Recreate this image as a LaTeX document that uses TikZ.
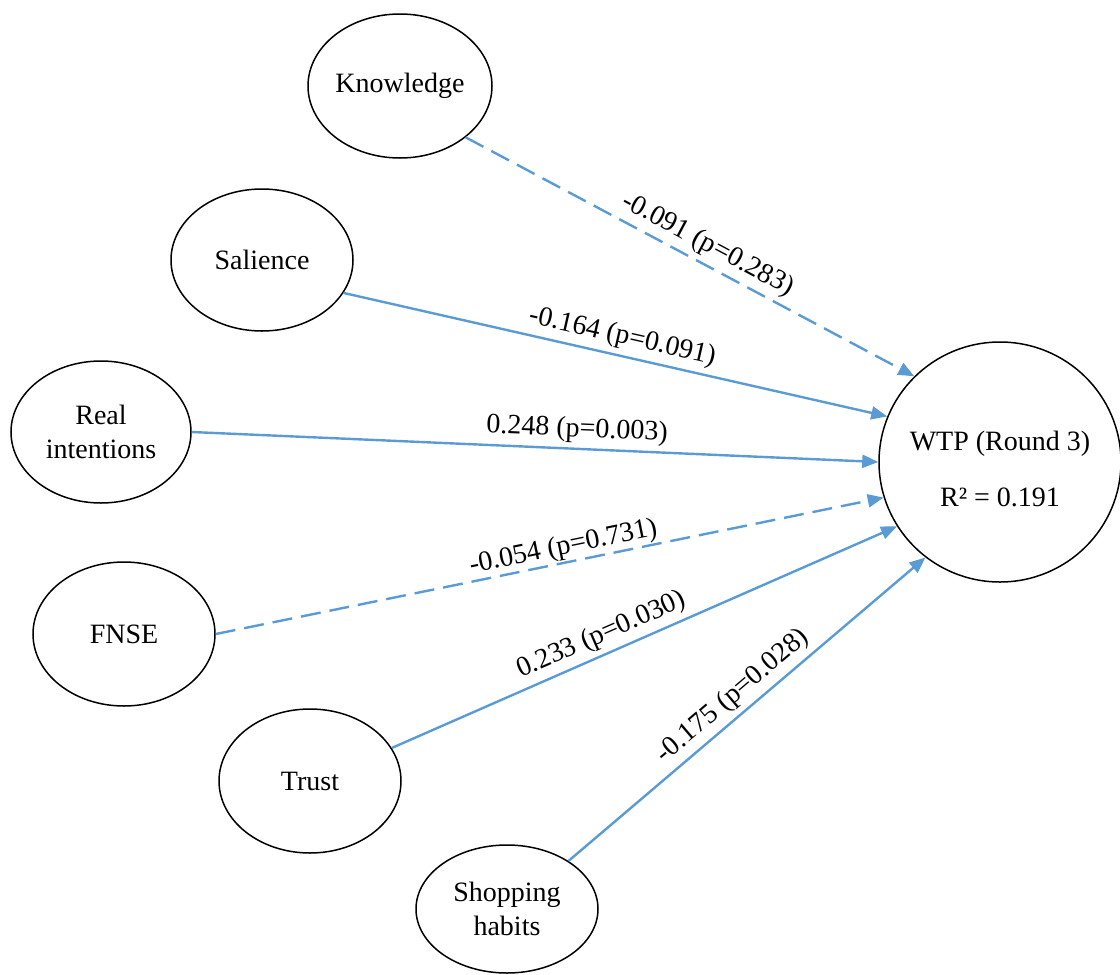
\documentclass[tikz,border=0pt]{standalone}
\usepackage{fontspec}
\setmainfont{Liberation Serif}
\usetikzlibrary{arrows.meta,shapes.geometric}
\definecolor{pathblue}{HTML}{5B9BD5}
\begin{document}
\begin{tikzpicture}[x=0.5pt,y=-0.5pt,
  every node/.style={font=\fontsize{14}{17}\selectfont},
  construct/.style={draw=black, line width=0.75pt, ellipse, inner sep=0pt, align=center},
  path/.style={draw=pathblue, line width=1.2pt, -{Triangle[length=8pt,width=6.5pt]}},
  nonsig/.style={path, dash pattern=on 10pt off 4.5pt},
  coef/.style={sloped, above, inner sep=2.5pt}]
\useasboundingbox (0,0) rectangle (1120,975);

% exogenous constructs
\node[construct, minimum width=92pt, minimum height=72pt] (know) at (400,86) {Knowledge};
\node[construct, minimum width=91pt, minimum height=71pt] (sal) at (262,260) {Salience};
\node[construct, minimum width=90pt, minimum height=71pt] (real) at (101,432) {Real\\intentions};
\node[construct, minimum width=91pt, minimum height=72pt] (fnse) at (124,634) {FNSE};
\node[construct, minimum width=91pt, minimum height=72pt] (trust) at (310,781) {Trust};
\node[construct, minimum width=91pt, minimum height=64pt] (shop) at (507,909) {Shopping\\habits};

% endogenous construct and its text
\node[construct, minimum width=121pt, minimum height=120pt] (wtp) at (1000,462) {};
\node[align=center] (wtptext) at ([yshift=-3.5pt]wtp.center) {WTP (Round 3)\\[11pt]R² = 0.191};

% structural paths
\draw[nonsig] (know.-38) -- node[coef, pos=0.52] {-0.091 (p=0.283)} (wtp.135);
\draw[path] (sal.-22) -- node[coef, pos=0.505] {-0.164 (p=0.091)} (wtp.158.5);
\draw[path] (real.0) -- node[coef, pos=0.56] {0.248 (p=0.003)} (wtp.180.5);
\draw[nonsig] (fnse.0) -- node[coef, pos=0.525, inner sep=0.5pt] {-0.054 (p=0.731)} (wtp.197);
\draw[path] (trust.22) -- node[coef, pos=0.43] {0.233 (p=0.030)} (wtp.212.5);
\draw[path] (shop.38) -- node[coef, pos=0.495] {-0.175 (p=0.028)} (wtp.232);
\end{tikzpicture}
\end{document}
